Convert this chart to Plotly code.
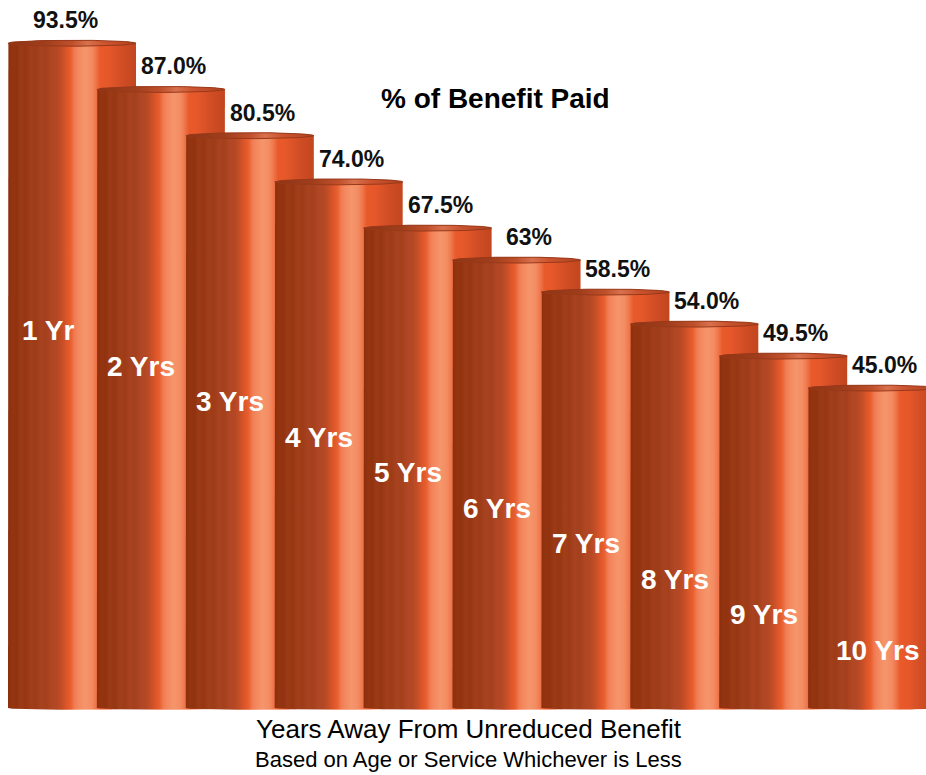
import numpy as np
import plotly.graph_objects as go

# ---- data ----
categories = ["1 Yr", "2 Yrs", "3 Yrs", "4 Yrs", "5 Yrs", "6 Yrs", "7 Yrs", "8 Yrs", "9 Yrs", "10 Yrs"]
values = [93.5, 87.0, 80.5, 74.0, 67.5, 63.0, 58.5, 54.0, 49.5, 45.0]
value_labels = ["93.5%", "87.0%", "80.5%", "74.0%", "67.5%", "63%", "58.5%", "54.0%", "49.5%", "45.0%"]

title_text = "% of Benefit Paid"
xtitle_text = "Years Away From Unreduced Benefit"
xsub_text = "Based on Age or Service Whichever is Less"

# ---- style / layout constants ----
W, H = 926, 775
BAR_W = 1.44          # bar width in category steps (bars overlap)
CAP_H = 0.42          # half height of elliptical top (in value units)
X_RANGE = [-0.09, 10.326]
Y_RANGE = [-9.42, 99.58]
FONT = "Liberation Sans, Arial, sans-serif"

body_scale = [
    [0.00, "#8a2f0f"], [0.03, "#94340f"], [0.07, "#923310"], [0.10, "#9c3a16"],
    [0.14, "#963712"], [0.18, "#a23e1a"], [0.22, "#9e3c18"], [0.26, "#a84220"],
    [0.30, "#a4401c"], [0.34, "#b04624"], [0.38, "#b24824"], [0.42, "#c44e26"],
    [0.46, "#de562a"], [0.49, "#e8602e"], [0.52, "#f07c54"], [0.55, "#f4885e"],
    [0.60, "#f5956c"], [0.65, "#f48c62"], [0.68, "#f07a50"], [0.72, "#e85a2a"],
    [0.78, "#e6582a"], [0.84, "#da5228"], [0.90, "#cf4c24"], [1.00, "#c2461f"],
]
cap_scale = [
    [0.00, "#8e3414"], [0.30, "#a03e1c"], [0.50, "#c0502c"], [0.62, "#d8714e"],
    [0.75, "#cc5430"], [1.00, "#b0421e"],
]

fig = go.Figure()

t_half = np.linspace(0, np.pi, 60)
t_full = np.linspace(0, 2 * np.pi, 120)

for i, v in enumerate(values):
    x0 = i
    x1 = i + BAR_W
    xc = (x0 + x1) / 2
    a = BAR_W / 2
    top_x = xc - a * np.cos(t_half)
    top_y = v + CAP_H * np.sin(t_half)
    bot_x = xc + a * np.cos(t_half)
    bot_y = -0.6 * CAP_H * np.sin(t_half)
    xs = np.concatenate([[x0], top_x, [x1], bot_x, [x0]])
    ys = np.concatenate([[0], top_y, [0], bot_y, [0]])
    fig.add_trace(go.Scatter(
        x=xs, y=ys, mode="lines", fill="toself",
        line=dict(width=0, color="rgba(0,0,0,0)"),
        fillgradient=dict(type="horizontal", colorscale=body_scale),
        hoverinfo="skip", showlegend=False,
    ))
    cx = xc + a * np.cos(t_full)
    cy = v + CAP_H * np.sin(t_full)
    fig.add_trace(go.Scatter(
        x=cx, y=cy, mode="lines", fill="toself",
        line=dict(width=1, color="#98391a"),
        fillgradient=dict(type="horizontal", colorscale=cap_scale),
        hoverinfo="skip", showlegend=False,
    ))

annotations = []
# value labels above each bar
for i, (v, lab) in enumerate(zip(values, value_labels)):
    dx = -0.07 if i == 0 else 0.14
    annotations.append(dict(
        x=i + BAR_W / 2 + dx, y=v, xref="x", yref="y", text=lab,
        showarrow=False, yanchor="bottom", yshift=8,
        font=dict(family=FONT, size=23, color="#111111", weight="bold"),
    ))

# category labels inside bars (stepping diagonally)
LABEL_Y0, LABEL_DY = 53.1, 5.0
n = len(categories)
for i, cat in enumerate(categories):
    right = i + 1 if i < n - 1 else X_RANGE[1] + 0.25
    left = i - 0.1 if i == 0 else i
    annotations.append(dict(
        x=(left + right) / 2, y=LABEL_Y0 - LABEL_DY * i, xref="x", yref="y",
        text=cat, showarrow=False, xanchor="center", yanchor="middle",
        font=dict(family=FONT, size=28, color="white", weight="bold"),
    ))

annotations.append(dict(
    x=495 / W, y=1 - 98 / H, xref="paper", yref="paper", text=title_text,
    showarrow=False, xanchor="center", yanchor="middle",
    font=dict(family=FONT, size=28, color="black", weight="bold"),
))
annotations.append(dict(
    x=469 / W, y=1 - 729 / H, xref="paper", yref="paper", text=xtitle_text,
    showarrow=False, xanchor="center", yanchor="middle",
    font=dict(family=FONT, size=26, color="black"),
))
annotations.append(dict(
    x=468 / W, y=1 - 759 / H, xref="paper", yref="paper", text=xsub_text,
    showarrow=False, xanchor="center", yanchor="middle",
    font=dict(family=FONT, size=22, color="black"),
))

fig.update_layout(
    width=W, height=H,
    margin=dict(l=0, r=0, t=0, b=0, pad=0),
    paper_bgcolor="white", plot_bgcolor="white",
    xaxis=dict(range=X_RANGE, visible=False, fixedrange=True),
    yaxis=dict(range=Y_RANGE, visible=False, fixedrange=True),
    annotations=annotations,
    showlegend=False,
)

fig.write_html(
    "out.html",
    config={"displayModeBar": False},
    post_script="document.body.style.margin='0';document.body.style.overflow='hidden';",
)
